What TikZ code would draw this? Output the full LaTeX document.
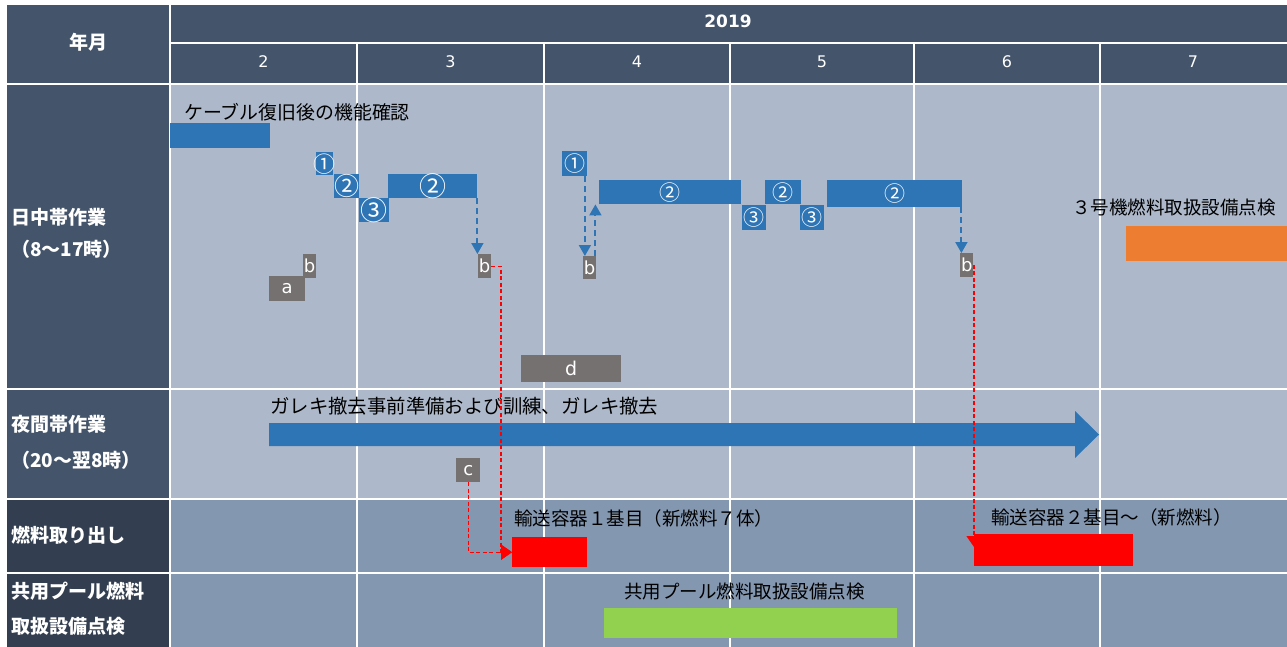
\documentclass[tikz,border=0pt]{standalone}
\usepackage{fontspec}
\setmainfont{Noto Sans CJK JP}
\newfontfamily\lat{DejaVu Sans}
\usetikzlibrary{arrows.meta}
\definecolor{hdr}{HTML}{44546A}
\definecolor{hdrdark}{HTML}{333F50}
\definecolor{cellA}{HTML}{ADB9CA}
\definecolor{cellB}{HTML}{8497B0}
\definecolor{barblue}{HTML}{2E75B6}
\definecolor{graybox}{HTML}{767171}
\definecolor{orangebar}{HTML}{ED7D31}
\definecolor{greenbar}{HTML}{92D050}
\begin{document}
\begin{tikzpicture}[x=1pt,y=-1pt,
  cell/.style={draw=white,line width=2.6pt},
  bar/.style={fill=barblue,inner sep=0pt,anchor=north west,text=white},
  gb/.style={fill=graybox,inner sep=0pt,anchor=north west,text=white,font=\lat\fontsize{18}{18}\selectfont},
  lbl/.style={anchor=west,inner sep=0pt,text=black,font=\fontsize{18.5}{18.5}\selectfont},
  hlbl/.style={anchor=west,inner sep=0pt,text=white,font=\bfseries\fontsize{19}{19}\selectfont},
  bdash/.style={draw=barblue,line width=1.9pt,dash pattern=on 6pt off 4pt,-{Triangle[width=12pt,length=11pt]}},
  rdash/.style={draw=red,line width=1.4pt,dash pattern=on 4pt off 2.5pt,-{Triangle[width=15pt,length=11pt]}},
]
\useasboundingbox (0,0) rectangle (1287,646);
\fill[white] (0,0) rectangle (1287,646);
% header
\filldraw[cell,fill=hdr] (6,4) rectangle (170,84);
\filldraw[cell,fill=hdr] (170,4) rectangle (1289,43);
\foreach \m/\a/\b in {2/170/357,3/357/544,4/544/730,5/730/914,6/914/1100,7/1100/1289}{
  \filldraw[cell,fill=hdr] (\a,43) rectangle (\b,84);
  \filldraw[cell,fill=cellA] (\a,84) rectangle (\b,389);
  \filldraw[cell,fill=cellA] (\a,389) rectangle (\b,499);
  \filldraw[cell,fill=cellB] (\a,499) rectangle (\b,573);
  \filldraw[cell,fill=cellB] (\a,573) rectangle (\b,648);
}
\filldraw[cell,fill=hdr] (6,84) rectangle (170,389);
\filldraw[cell,fill=hdr] (6,389) rectangle (170,499);
\filldraw[cell,fill=hdrdark] (6,499) rectangle (170,573);
\filldraw[cell,fill=hdrdark] (6,573) rectangle (170,648);
% header texts
\node[text=white,font=\bfseries\fontsize{19}{19}\selectfont] (ym) at (88,42) {年月};
\node[text=white,font=\lat\bfseries\fontsize{17}{17}\selectfont] (yr) at (728,21) {2019};
\foreach \m/\c in {2/263.5,3/450.5,4/637,5/822,6/1007,7/1193}{
  \node[text=white,font=\lat\fontsize{16}{16}\selectfont] (mon\m) at (\c,62) {\m};
}
% row labels
\node[hlbl] (r1a) at (11,217) {日中帯作業};
\node[hlbl] (r1b) at (11,249) {（8～17時）};
\node[hlbl] (r2a) at (11,424) {夜間帯作業};
\node[hlbl] (r2b) at (11,460) {（20～翌8時）};
\node[hlbl] (r3) at (11,535) {燃料取り出し};
\node[hlbl] (r4a) at (11,591) {共用プール燃料};
\node[hlbl] (r4b) at (11,626) {取扱設備点検};
% annotations
\node[lbl,font=\fontsize{18.9}{18.9}\selectfont] (t1) at (184,112) {ケーブル復旧後の機能確認};
\node[lbl,font=\fontsize{19.4}{19.4}\selectfont] (t2) at (270,406) {ガレキ撤去事前準備および訓練、ガレキ撤去};
\node[lbl] (t3) at (514,518) {輸送容器１基目（新燃料７体）};
\node[lbl] (t4) at (991,517) {輸送容器２基目～（新燃料）};
\node[lbl] (t5) at (1072,207) {３号機燃料取扱設備点検};
\node[lbl] (t6) at (624,591) {共用プール燃料取扱設備点検};
% bars day row
\node[bar,minimum width=100pt,minimum height=25pt] (cable) at (170,123) {};
\node[bar,minimum width=17pt,minimum height=23pt,label={[text=white,inner sep=0pt,font=\fontsize{22}{22}\selectfont]center:①}] (A1) at (316,152) {};
\node[bar,minimum width=25pt,minimum height=24pt,label={[text=white,inner sep=0pt,font=\fontsize{25}{25}\selectfont]center:②}] (A2) at (334,174) {};
\node[bar,minimum width=30pt,minimum height=24pt,label={[text=white,inner sep=0pt,font=\fontsize{27}{27}\selectfont]center:③}] (A3) at (359,198) {};
\node[bar,minimum width=89pt,minimum height=24pt,label={[text=white,inner sep=0pt,font=\fontsize{27}{27}\selectfont]center:②}] (A4) at (388,174) {};
\node[bar,minimum width=25pt,minimum height=25pt,label={[text=white,inner sep=0pt,font=\fontsize{21}{21}\selectfont]center:①}] (B1) at (562,151) {};
\node[bar,minimum width=142pt,minimum height=24pt,label={[text=white,inner sep=0pt,font=\fontsize{21}{21}\selectfont]center:②}] (B2) at (599,180) {};
\node[bar,minimum width=24pt,minimum height=25pt,label={[text=white,inner sep=0pt,font=\fontsize{21}{21}\selectfont]center:③}] (B3) at (742,205) {};
\node[bar,minimum width=36pt,minimum height=24pt,label={[text=white,inner sep=0pt,font=\fontsize{21}{21}\selectfont]center:②}] (B4) at (765,180) {};
\node[bar,minimum width=24pt,minimum height=25pt,label={[text=white,inner sep=0pt,font=\fontsize{21}{21}\selectfont]center:③}] (B5) at (800,205) {};
\node[bar,minimum width=135pt,minimum height=27pt,label={[text=white,inner sep=0pt,font=\fontsize{21}{21}\selectfont]center:②}] (B6) at (827,180) {};
% gray boxes
\node[gb,minimum width=13pt,minimum height=24pt] (bA) at (303,254) {b};
\node[gb,minimum width=36pt,minimum height=25pt] (aA) at (269,276) {a};
\node[gb,minimum width=13pt,minimum height=24pt] (bB) at (478,254) {b};
\node[gb,minimum width=13pt,minimum height=23pt] (bC) at (583,256) {b};
\node[gb,minimum width=13pt,minimum height=24pt] (bD) at (960,253) {b};
\node[gb,minimum width=100pt,minimum height=27pt,font=\lat\fontsize{19}{19}\selectfont] (dbox) at (521,355) {d};
\node[gb,minimum width=24pt,minimum height=24pt] (cbox) at (456,458) {c};
% other bars
\node[fill=orangebar,inner sep=0pt,anchor=north west,minimum width=161pt,minimum height=35pt] (orange) at (1126,226) {};
\node[fill=greenbar,inner sep=0pt,anchor=north west,minimum width=293pt,minimum height=30pt] (green) at (604,608) {};
\node[fill=red,inner sep=0pt,anchor=north west,minimum width=75pt,minimum height=30pt] (red1) at (512,537) {};
\node[fill=red,inner sep=0pt,anchor=north west,minimum width=159pt,minimum height=32pt] (red2) at (974,534) {};
% night arrow
\fill[barblue] (269,423) -- (1075,423) -- (1075,411) -- (1099,434.5) -- (1075,458) -- (1075,446) -- (269,446) -- cycle;
% connectors
\draw[bdash] (A4.south east) -- (A4.south east |- bB.north);
\draw[bdash] ([xshift=-2.5pt]B1.south east) -- ([xshift=-2.5pt]B1.south east |- bC.north);
\draw[bdash] ([xshift=-1pt]bC.north east) -- ([xshift=-1pt]bC.north east |- B2.south);
\draw[bdash] ([xshift=-1pt]B6.south east) -- ([xshift=-1pt]B6.south east |- bD.north);
\draw[rdash] (bB.east) -| ([xshift=-11pt]red1.west) -- (red1.west);
\draw[rdash] (cbox.south) |- (red1.west);
\draw[rdash] (bD.east) -| ([yshift=-13pt]red2.north west);
\end{tikzpicture}
\end{document}
